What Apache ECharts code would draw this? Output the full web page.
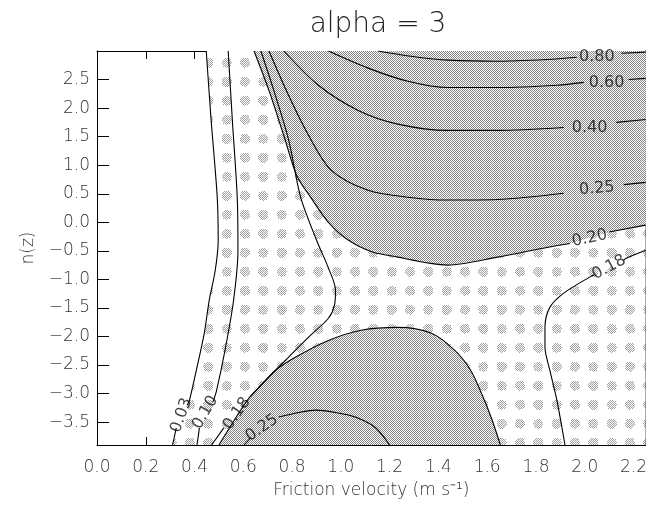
<!DOCTYPE html>
<html><head><meta charset="utf-8">
<script src="https://cdn.jsdelivr.net/npm/echarts@6/dist/echarts.min.js"></script>
<style>html,body{margin:0;padding:0;background:#fff}#c{width:650px;height:506px}</style>
</head><body><div id="c"></div>
<script>
// ---- data (u*, n(z)) ----
const titleText = 'alpha = 3';
const xTicks = [0.0,0.2,0.4,0.6,0.8,1.0,1.2,1.4,1.6,1.8,2.0,2.2];
const yTicks = [-3.5,-3.0,-2.5,-2.0,-1.5,-1.0,-0.5,0.0,0.5,1.0,1.5,2.0,2.5];
const xRange = [0, 2.25];
const yRange = [-3.9, 3.0];

// contour lines, split into segments where labels interrupt them
const c003 = [[[0.448,3.0],[0.468,1.79],[0.493,0.44],[0.497,-0.31],[0.485,-0.84],[0.46,-1.37],[0.44,-1.94],[0.41,-2.54],[0.379,-3.12],[0.37,-3.2]],
              [[0.325,-3.6],[0.31,-3.9]]];
const c010 = [[[0.538,3.0],[0.555,1.79],[0.575,0.44],[0.578,-0.49],[0.56,-1.37],[0.525,-2.24],[0.49,-2.95],[0.475,-3.15]],
              [[0.42,-3.6],[0.41,-3.9]]];
const c018L = [[[0.672,3.0],[0.725,2.31],[0.786,1.44],[0.835,0.44],[0.90,-0.31],[0.949,-0.80],[0.978,-1.19],[0.974,-1.45],[0.949,-1.68],[0.868,-2.01],[0.786,-2.36],[0.705,-2.71],[0.63,-3.05]],
               [[0.52,-3.6],[0.47,-3.9]]];
const c018R = [[[2.25,-0.49],[2.17,-0.63],[2.16,-0.66]],
               [[2.04,-0.92],[2.02,-0.96],[1.914,-1.24],[1.857,-1.49],[1.837,-1.84],[1.837,-2.19],[1.857,-2.59],[1.886,-3.12],[1.919,-3.9]]];
const c020U = [[[0.644,3.0],[0.705,2.31],[0.766,1.52],[0.819,0.82],[0.876,0.44],[0.949,0.0],[1.03,-0.31],[1.13,-0.52],[1.234,-0.61],[1.369,-0.72],[1.438,-0.75],[1.642,-0.61],[1.845,-0.44],[1.939,-0.37]],
               [[2.10,-0.17],[2.25,-0.05]]];
const c020B = [[[0.50,-3.9],[0.562,-3.47],[0.623,-3.08],[0.664,-2.89],[0.733,-2.59],[0.815,-2.36],[0.949,-2.07],[1.083,-1.89],[1.234,-1.84],[1.369,-1.94],[1.466,-2.24],[1.532,-2.59],[1.58,-3.03],[1.621,-3.47],[1.654,-3.9]]];
const c025U = [[[0.705,3.0],[0.786,2.22],[0.868,1.52],[0.961,0.91],[1.112,0.56],[1.275,0.44],[1.438,0.39],[1.642,0.40],[1.914,0.51]],
               [[2.16,0.66],[2.25,0.70]]];
const c025B = [[[0.603,-3.9],[0.631,-3.77]],
               [[0.745,-3.41],[0.827,-3.33],[0.896,-3.29],[0.978,-3.33],[1.059,-3.41],[1.14,-3.59],[1.20,-3.9]]];
const c040 = [[[0.766,3.0],[0.908,2.40],[1.071,1.96],[1.234,1.72],[1.438,1.61],[1.642,1.61],[1.914,1.66]],
              [[2.13,1.75],[2.25,1.80]]];
const c060 = [[[0.949,3.0],[1.112,2.70],[1.275,2.47],[1.438,2.36],[1.642,2.36],[1.886,2.40],[1.996,2.45]],
              [[2.18,2.50],[2.25,2.52]]];
const c080 = [[[1.153,3.0],[1.316,2.89],[1.438,2.84],[1.642,2.82],[1.845,2.85],[1.967,2.89]],
              [[2.15,2.96],[2.25,2.98]]];

// contour labels: [u, n, text, rotation]
const contourLabels = [
  [2.05,2.90,'0.80',0],[2.09,2.45,'0.60',0],[2.02,1.66,'0.40',0],[2.05,0.59,'0.25',5],
  [2.02,-0.28,'0.20',12],[2.10,-0.79,'0.18',28],
  [0.346,-3.38,'0.03',70],[0.444,-3.33,'0.10',60],[0.574,-3.35,'0.18',55],[0.676,-3.60,'0.25',35]
];

// ---- patterns ----
function makeLight(){
  const w=55,h=57,c=document.createElement('canvas');c.width=w;c.height=h;
  const g=c.getContext('2d');g.fillStyle='#fff';g.fillRect(0,0,w,h);g.fillStyle='#a0a0a0';
  const cx=[6.67,25,43.33], cy=[5.7,24.7,43.7];
  for(let px=0;px<w;px++)for(let py=0;py<h;py++){
    if((px+py)%2) continue;
    for(const a of cx)for(const b of cy){
      const dx=px+0.5-a, dy=py+0.5-b;
      if(dx*dx+dy*dy<=25){g.fillRect(px,py,1,1);}
    }
  }
  return c;
}
function makeDense(){
  const w=2,h=2,c=document.createElement('canvas');c.width=w;c.height=h;
  const g=c.getContext('2d');g.fillStyle='#fff';g.fillRect(0,0,w,h);g.fillStyle='#858585';
  g.fillRect(0,0,1,1);g.fillRect(1,1,1,1);
  return c;
}
const lightPat={image:makeLight(),repeat:'repeat'};
const densePat={image:makeDense(),repeat:'repeat'};

const flat = segs => segs.reduce((a,s)=>a.concat(s),[]);
const lightPoly = flat(c003).concat([[xRange[1],yRange[0]],[xRange[1],yRange[1]]]);
const denseTopPoly = flat(c020U).concat([[xRange[1],yRange[1]]]);
const denseBotPoly = flat(c020B);

function polySeries(poly, pat){
  return {type:'custom', coordinateSystem:'cartesian2d', data:[[0,0]], silent:true, clip:true, z:1,
    renderItem:(params,api)=>({type:'polygon', shape:{points:poly.map(p=>api.coord(p))}, style:{fill:pat, stroke:null}})};
}

const series=[polySeries(lightPoly,lightPat), polySeries(denseTopPoly,densePat), polySeries(denseBotPoly,densePat)];
[c003,c010,c018L,c018R,c020U,c020B,c025U,c025B,c040,c060,c080].forEach(segs=>{
  segs.forEach(seg=>series.push({type:'line', data:seg, smooth:0.3, symbol:'none', silent:true, z:3,
    lineStyle:{color:'#000', width:1.1}}));
});
series.push({type:'scatter', symbolSize:0, z:4, silent:true,
  data: contourLabels.map(l=>({value:[l[0],l[1]], label:{show:true, formatter:l[2], rotate:l[3], position:'inside',
     fontSize:16, color:'#111', fontFamily:'DejaVu Sans'}}))});

const font='DejaVu Sans';
const chart=echarts.init(document.getElementById('c'),null,{renderer:'canvas'});
chart.setOption({
  animation:false,
  backgroundColor:'#fff',
  title:{text:titleText,left:373,textAlign:'center',top:6,textStyle:{fontSize:28,fontWeight:200,color:'#222',fontFamily:font}},
  grid:{left:97,right:1,top:51,bottom:61,containLabel:false},
  xAxis:[
    {type:'value',min:xRange[0],max:xRange[1],position:'bottom',
     axisLine:{show:true,onZero:false,lineStyle:{color:'#000',width:1}},
     axisTick:{show:true,inside:true,length:8,customValues:xTicks,lineStyle:{color:'#000'}},
     axisLabel:{customValues:xTicks,formatter:v=>v.toFixed(1),margin:14,fontSize:17,color:'#333',fontFamily:font,fontWeight:200},
     splitLine:{show:false},
     name:'Friction velocity (m s\u207B\u00B9)',nameLocation:'middle',nameGap:37,
     nameTextStyle:{fontSize:17,color:'#333',fontFamily:font,fontWeight:200}},
    {type:'value',min:xRange[0],max:xRange[1],position:'top',
     axisLine:{show:true,onZero:false,lineStyle:{color:'#000',width:1}},
     axisTick:{show:true,inside:true,length:8,customValues:xTicks,lineStyle:{color:'#000'}},
     axisLabel:{show:false},splitLine:{show:false}}
  ],
  yAxis:[
    {type:'value',min:yRange[0],max:yRange[1],position:'left',
     axisLine:{show:true,onZero:false,lineStyle:{color:'#000',width:1}},
     axisTick:{show:true,inside:true,length:12,customValues:yTicks,lineStyle:{color:'#000'}},
     axisLabel:{customValues:yTicks,formatter:v=>(v<0?'\u2212':'')+Math.abs(v).toFixed(1),margin:7,fontSize:17,color:'#333',fontFamily:font,fontWeight:200},
     splitLine:{show:false},
     name:'n(z)',nameLocation:'middle',nameGap:60,nameRotate:90,
     nameTextStyle:{fontSize:17,color:'#333',fontFamily:font,fontWeight:200}},
    {type:'value',min:yRange[0],max:yRange[1],position:'right',
     axisLine:{show:true,onZero:false,lineStyle:{color:'#000',width:1}},
     axisTick:{show:true,inside:true,length:10,customValues:yTicks,lineStyle:{color:'#000'}},
     axisLabel:{show:false},splitLine:{show:false}}
  ],
  series:series
});
</script></body></html>
